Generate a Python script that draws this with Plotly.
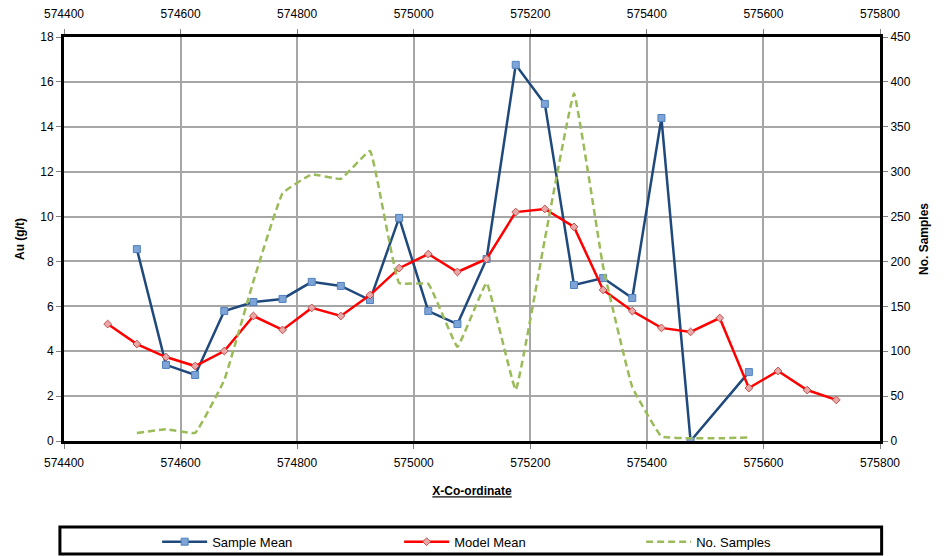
import plotly.graph_objects as go

# bin centres (X-Co-ordinate)
x_sample = [574525, 574575, 574625, 574675, 574725, 574775, 574825, 574875, 574925, 574975,
            575025, 575075, 575125, 575175, 575225, 575275, 575325, 575375, 575425, 575475,
            575575]
sample_mean = [8.55, 3.39, 2.94, 5.79, 6.19, 6.33, 7.09, 6.91, 6.28, 9.94,
               5.79, 5.21, 8.11, 16.76, 15.02, 6.95, 7.26, 6.37, 14.39, 0.0,
               3.07]

x_model = [574475, 574525, 574575, 574625, 574675, 574725, 574775, 574825, 574875, 574925,
           574975, 575025, 575075, 575125, 575175, 575225, 575275, 575325, 575375, 575425,
           575475, 575525, 575575, 575625, 575675, 575725]
model_mean = [5.21, 4.32, 3.74, 3.34, 4.01, 5.57, 4.95, 5.93, 5.57, 6.5,
              7.7, 8.33, 7.53, 8.11, 10.2, 10.34, 9.54, 6.73, 5.79, 5.04,
              4.86, 5.48, 2.36, 3.12, 2.27, 1.83]

x_count = [574525, 574575, 574625, 574675, 574725, 574775, 574825, 574875, 574925, 574975,
           575025, 575075, 575125, 575175, 575225, 575275, 575325, 575375, 575425, 575475,
           575525, 575575]
no_samples = [9, 13, 9, 68, 178, 276, 297, 292, 323, 176,
              175, 105, 176, 57, 225, 387, 194, 60, 5, 3,
              3, 4]

x_ticks = [574400, 574600, 574800, 575000, 575200, 575400, 575600, 575800]

font_name = "Liberation Sans, Arial, sans-serif"

fig = go.Figure()

fig.add_trace(go.Scatter(
    x=x_sample, y=sample_mean, name="Sample Mean", mode="lines+markers",
    line=dict(color="#1F497D", width=2.5),
    marker=dict(symbol="square", size=7, color="#7EA3D6", line=dict(color="#4F81BD", width=1)),
))
fig.add_trace(go.Scatter(
    x=x_model, y=model_mean, name="Model Mean", mode="lines+markers",
    line=dict(color="#FF0000", width=2.5),
    marker=dict(symbol="diamond", size=6, color="#E8A8A8", line=dict(color="#C0504D", width=1)),
))
fig.add_trace(go.Scatter(
    x=x_count, y=no_samples, name="No. Samples", mode="lines", yaxis="y2",
    line=dict(color="#9BBB59", width=2.5, dash="7px,4px", shape="spline", smoothing=0.25),
))
# invisible trace to drive the top x axis
fig.add_trace(go.Scatter(x=[x_ticks[0], x_ticks[-1]], y=[None, None], xaxis="x2",
                         showlegend=False, hoverinfo="skip"))

axis_font = dict(family=font_name, size=12, color="black")
title_font = dict(family=font_name, size=12, color="black")
common = dict(automargin=False, zeroline=False, ticks="outside", ticklen=5,
              tickcolor="#808080", tickfont=axis_font,
              showline=True, linecolor="black", linewidth=3)

# page body adds 8px margin, so the figure is drawn 8px smaller
fig.update_layout(
    width=936, height=548,
    margin=dict(l=56, r=64, t=29, b=115),
    paper_bgcolor="white", plot_bgcolor="white",
    font=axis_font,
    xaxis=dict(
        range=[574400, 575800], tickvals=x_ticks, ticktext=[str(v) for v in x_ticks],
        showgrid=True, gridcolor="#A6A6A6", gridwidth=1.5, ticklabelstandoff=4,
        title=dict(text="<b><u>X-Co-ordinate</u></b>", font=title_font, standoff=18),
        **common,
    ),
    xaxis2=dict(
        overlaying="x", side="top", range=[574400, 575800], tickvals=x_ticks,
        ticktext=[str(v) for v in x_ticks], showgrid=False, ticklabelstandoff=6,
        **common,
    ),
    yaxis=dict(
        range=[0, 18], dtick=2, showgrid=True, gridcolor="#A6A6A6", gridwidth=1.5,
        title=dict(text="<b>Au (g/t)</b>", font=title_font, standoff=14),
        **common,
    ),
    yaxis2=dict(
        overlaying="y", side="right", range=[0, 450], dtick=50, showgrid=False,
        title=dict(text="<b>No. Samples</b>", font=title_font, standoff=10),
        **common,
    ),
    legend=dict(
        orientation="h", x=0.559, xanchor="center",
        yref="container", y=0.026, yanchor="middle",
        font=dict(family=font_name, size=13, color="black"),
        entrywidth=182, bgcolor="rgba(0,0,0,0)", itemwidth=45,
    ),
    shapes=[dict(type="rect", xref="paper", yref="paper",
                 x0=-0.005, x1=1.002, y0=-0.280, y1=-0.213,
                 line=dict(color="black", width=3), fillcolor="rgba(0,0,0,0)")],
    showlegend=True,
)

fig.write_html("out.html")
